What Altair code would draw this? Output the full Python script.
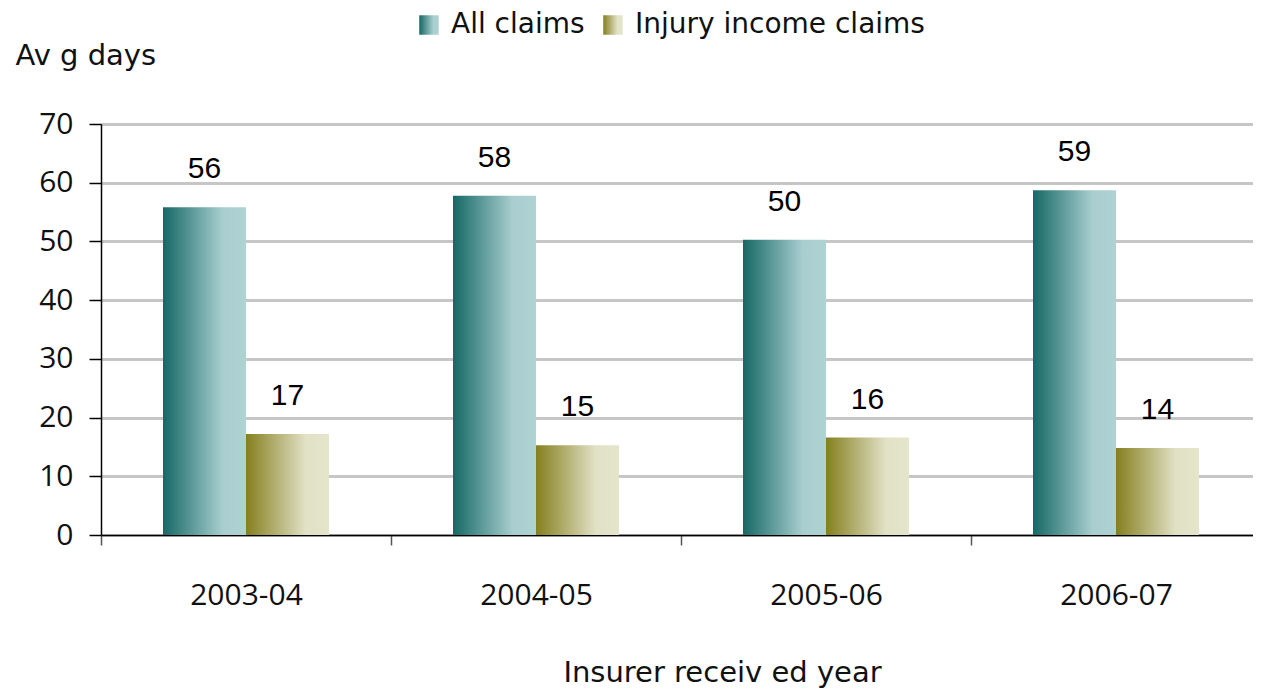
import altair as alt
import pandas as pd

years = ["2003-04", "2004-05", "2005-06", "2006-07"]
series = ["All claims", "Injury income claims"]
all_claims = [55.8, 57.8, 50.3, 58.7]
injury_income = [17.2, 15.3, 16.6, 14.8]
all_labels = ["56", "58", "50", "59"]
injury_labels = ["17", "15", "16", "14"]

rows = []
for i, yr in enumerate(years):
    rows.append({"year": yr, "series": series[0], "value": all_claims[i], "label": all_labels[i]})
    rows.append({"year": yr, "series": series[1], "value": injury_income[i], "label": injury_labels[i]})
df = pd.DataFrame(rows)

teal = ("{gradient: 'linear', x1: 0, y1: 0, x2: 1, y2: 0, stops: ["
        "{offset: 0, color: '#156866'}, {offset: 0.72, color: '#a9cecf'}, {offset: 1, color: '#afd2d3'}]}")
olive = ("{gradient: 'linear', x1: 0, y1: 0, x2: 1, y2: 0, stops: ["
         "{offset: 0, color: '#857f1e'}, {offset: 0.72, color: '#e1e1c6'}, {offset: 1, color: '#e5e5cc'}]}")

FONT = "Open Sans"
TFONT = "DejaVu Sans"

x_enc = alt.X(
    "year:N", sort=years,
    scale=alt.Scale(paddingInner=0, paddingOuter=0),
    axis=alt.Axis(
        title="Insurer receiv ed year", labelAngle=0,
        labelFont=FONT, labelFontSize=30, labelColor="#111111", labelPadding=35,
        tickBand="extent", tickSize=10, tickColor="#555555", tickWidth=1.5,
        domainColor="#000000", domainWidth=1.5, grid=False,
        titleFont=TFONT, titleFontSize=29, titleFontWeight="normal", titleColor="#111111",
        titleX=621, titleY=146, titleAlign="center", titleBaseline="alphabetic",
    ),
)
xoff_enc = alt.XOffset("series:N", sort=series, scale=alt.Scale(paddingInner=0, paddingOuter=0.747))
y_enc = alt.Y(
    "value:Q",
    scale=alt.Scale(domain=[0, 70], nice=False),
    axis=alt.Axis(
        values=[0, 10, 20, 30, 40, 50, 60, 70],
        title="Av g days", titleAngle=0, titleX=-86, titleY=-69,
        titleAlign="left", titleBaseline="middle",
        titleFont=TFONT, titleFontSize=29, titleFontWeight="normal", titleColor="#111111",
        labelFont=FONT, labelFontSize=30, labelColor="#111111", labelPadding=16,
        tickSize=12, tickColor="#000000", tickWidth=1.5,
        domainColor="#000000", domainWidth=1.5,
        gridColor="#c6c6c6", gridWidth=3,
    ),
)

bars = alt.Chart().mark_bar().encode(
    x=x_enc,
    xOffset=xoff_enc,
    y=y_enc,
    color=alt.Color(
        "series:N",
        scale=alt.Scale(domain=series, range=[{"expr": teal}, {"expr": olive}]),
        legend=alt.Legend(
            title=None, orient="none", legendX=314, legendY=-113,
            direction="horizontal", symbolType="square", symbolSize=380,
            symbolStrokeWidth=0, labelFont=TFONT, labelFontSize=28, labelColor="#111111",
            labelOffset=8, columnPadding=14, padding=0, labelLimit=500,
        ),
    ),
)

labels = alt.Chart().mark_text(
    font="Liberation Sans", fontSize=30, baseline="alphabetic", dy=-29, color="#000000"
).encode(
    x=alt.X("year:N", sort=years),
    xOffset=alt.XOffset("series:N", sort=series),
    y=alt.Y("value:Q"),
    text="label:N",
)

chart = alt.layer(bars, labels, data=df).properties(
    width=1160, height=411,
    padding={"left": 93, "top": 116, "right": -8, "bottom": 154},
    autosize=alt.AutoSizeParams(type="none"),
).configure_view(stroke=None).configure(background="white")

chart.save("out.html", embed_options={"renderer": "svg", "actions": False})
